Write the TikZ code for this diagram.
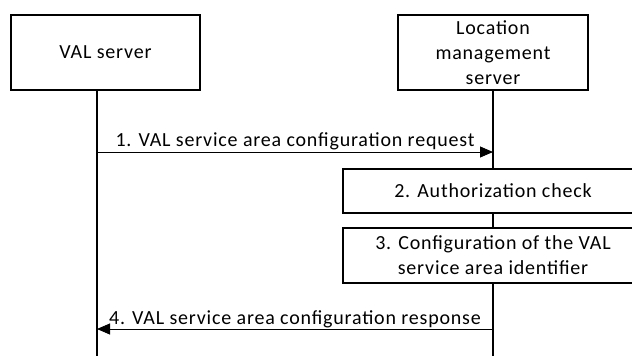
\documentclass[tikz,border=0pt]{standalone}
\usepackage{fontspec}
\setmainfont{Carlito}[LetterSpace=4]
\usetikzlibrary{arrows.meta}
\begin{document}
\begin{tikzpicture}[x=1pt,y=-1pt,
  every node/.style={font=\fontsize{20}{25}\selectfont},
  entity/.style={draw,line width=1.3pt,fill=white,align=center,inner sep=0pt},
  life/.style={line width=1.3pt},
  msg/.style={line width=0.9pt,-{Triangle[length=13pt,width=11pt]}},
  lbl/.style={above,inner sep=2pt}]
\useasboundingbox (0,0) rectangle (632,356);
\node[entity,minimum width=189pt,minimum height=75pt] (val) at (105.5,52.5) {VAL server};
\node[entity,minimum width=190pt,minimum height=75pt] (lms) at (493,52.5) {Location\\management\\server};
\coordinate (vb) at (97,356);
\coordinate (lb) at (493,356);
\draw[life] (vb |- val.south) -- (vb);
\draw[life] (lms.south) -- (lb);
\node[entity,minimum width=300pt,minimum height=44pt] (auth) at (493,191) {2. Authorization check};
\node[entity,minimum width=300pt,minimum height=55pt] (conf) at (493,255.5) {3. Configuration of the VAL\\service area identifier};
\coordinate (a1s) at (97,152);
\coordinate (a1e) at (493,152);
\draw[msg] (a1s) -- (a1e) node[lbl,midway] (l1) {1. VAL service area configuration request};
\coordinate (a4s) at (493,329);
\coordinate (a4e) at (97,329);
\draw[msg] (a4s) -- (a4e) node[lbl,midway,inner sep=1pt] (l4) {4. VAL service area configuration response};
\end{tikzpicture}
\end{document}
